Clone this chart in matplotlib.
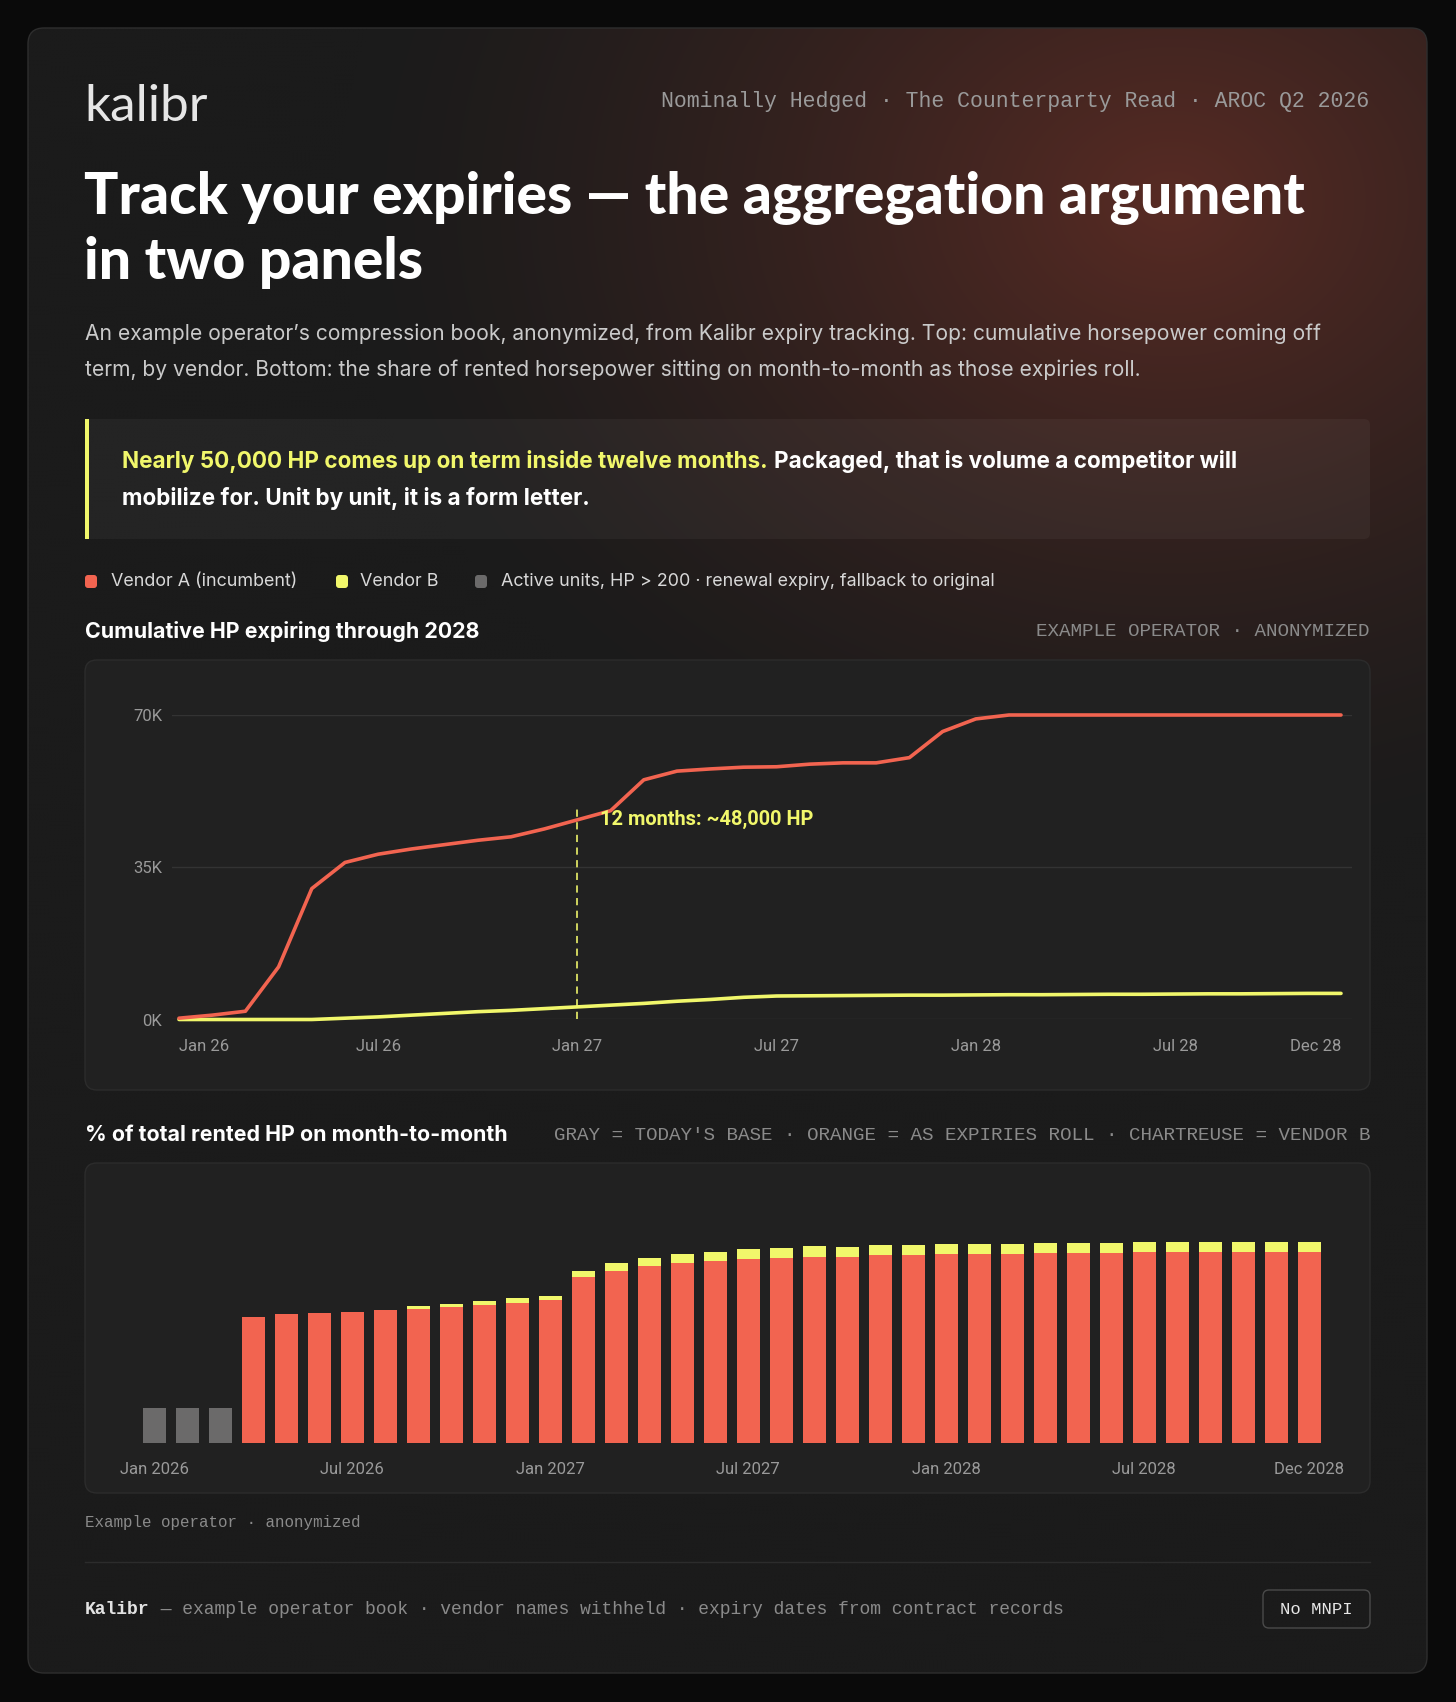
import numpy as np
import matplotlib
matplotlib.use("Agg")
from matplotlib import pyplot as plt
from matplotlib.patches import FancyBboxPatch, Rectangle
from matplotlib.ticker import FuncFormatter

# ---- data ----
months = np.arange(36)  # Jan 2026 .. Dec 2028

# cumulative HP expiring, thousands
vendor_a_cum = [0.3, 1.0, 1.9, 12.1, 30.1, 36.1, 38.0, 39.2, 40.2, 41.2, 42.0, 43.8,
                45.9, 48.0, 55.1, 57.1, 57.6, 58.0, 58.1, 58.7, 59.0, 59.0, 60.2, 66.2,
                69.1, 70.0, 70.0, 70.0, 70.0, 70.0, 70.0, 70.0, 70.0, 70.0, 70.0, 70.0]
vendor_b_cum = [0.0, 0.0, 0.0, 0.0, 0.0, 0.3, 0.6, 1.0, 1.4, 1.8, 2.1, 2.5,
                2.9, 3.3, 3.7, 4.2, 4.6, 5.1, 5.4, 5.45, 5.5, 5.55, 5.6, 5.6,
                5.65, 5.7, 5.7, 5.75, 5.8, 5.8, 5.85, 5.9, 5.9, 5.95, 6.0, 6.0]
line_ticks = [0, 6, 12, 18, 24, 30, 35]
line_tick_labels = ['Jan 26', 'Jul 26', 'Jan 27', 'Jul 27', 'Jan 28', 'Jul 28', 'Dec 28']
y_ticks = [0, 35000, 70000]

# share of rented HP on month-to-month, %
base_share = [12.0, 12.0, 12.0] + [0.0] * 33
vendor_a_share = [0.0, 0.0, 0.0,
                  43.9, 44.7, 45.2, 45.5, 46.3, 46.7, 47.2, 48.0, 48.8,
                  49.6, 57.7, 59.8, 61.6, 62.5, 63.2, 63.9, 64.3, 64.8, 64.8, 65.3, 65.3,
                  65.6, 65.6, 65.6, 66.0, 66.0, 66.0, 66.3, 66.3, 66.3, 66.3, 66.3, 66.3]
vendor_b_share = [0.0, 0.0, 0.0, 0.0, 0.0, 0.0, 0.0, 0.0, 0.9, 1.1, 1.4, 1.5,
                  1.6, 2.0, 2.7, 2.9, 3.1, 3.2, 3.5, 3.5, 3.6, 3.5, 3.5, 3.5,
                  3.6, 3.6, 3.6, 3.6, 3.6, 3.6, 3.7, 3.7, 3.7, 3.7, 3.7, 3.7]
bar_tick_labels = ['Jan 2026', 'Jul 2026', 'Jan 2027', 'Jul 2027', 'Jan 2028', 'Jul 2028', 'Dec 2028']

# ---- style ----
RED = '#f26450'
YELLOW = '#f1f76b'
GRAY = '#6b6a6a'
PANEL = '#212121'
MUTED = '#9a9a9a'
SANS = ['Inter', 'DejaVu Sans']
TICKF = ['Roboto', 'DejaVu Sans']
MONO = ['Liberation Mono', 'DejaVu Sans Mono']
TITLEF = ['Lato', 'DejaVu Sans']

W, H = 1456, 1702
fig = plt.figure(figsize=(W / 100, H / 100), dpi=100, facecolor='#0a0a0a')

# background axes in pixel coordinates (y down)
bg = fig.add_axes([0, 0, 1, 1])
bg.set_xlim(0, W)
bg.set_ylim(H, 0)
bg.axis('off')


def px_axes(left, top, right, bottom):
    return fig.add_axes([left / W, 1 - bottom / H, (right - left) / W, (bottom - top) / H])


def rbox(x, y, w, h, r, fc, ec='none', lw=0, z=1, alpha=1):
    p = FancyBboxPatch((x, y), w, h, boxstyle='round,pad=0,rounding_size=%s' % r,
                       fc=fc, ec=ec, lw=lw, zorder=z, alpha=alpha)
    bg.add_patch(p)
    return p


# card with warm glow in the upper right
card = rbox(28, 28, 1399, 1645, 16, '#1b1b1b', z=0.5)
gy, gx = np.mgrid[28:1673:4, 28:1427:4]
d = np.sqrt(((gx - 1170) / 830.0) ** 2 + ((gy - 200) / 660.0) ** 2)
a = np.clip(1 - d, 0, 1) ** 1.4
base_c = np.array([27, 27, 27]) / 255.0
glow_c = np.array([88, 43, 36]) / 255.0
img = base_c + (glow_c - base_c) * a[..., None]
im = bg.imshow(img, extent=[28, 1427, 1673, 28], origin='upper', interpolation='bilinear',
               zorder=0.6, aspect='auto')
im.set_clip_path(card)
rbox(28, 28, 1399, 1645, 16, 'none', ec='#2e2e2e', lw=1, z=0.7)

# header
bg.text(84, 121, 'kalibr', family=TITLEF, weight='normal', size=37, color='#e6e6e6', va='baseline')
bg.text(1369, 101, 'Nominally Hedged \u00b7 The Counterparty Read \u00b7 AROC Q2 2026',
        family=MONO, size=15.5, color=MUTED, ha='right', va='center')

bg.text(84, 214, 'Track your expiries \u2014 the aggregation argument', family=TITLEF,
        weight=900, size=41, color='white', va='baseline')
bg.text(84, 279, 'in two panels', family=TITLEF, weight=900, size=41, color='white',
        va='baseline')

bg.text(85, 340, 'An example operator\u2019s compression book, anonymized, from Kalibr expiry tracking. '
        'Top: cumulative horsepower coming off', family=SANS, size=15.15, color='#cacaca', va='baseline')
bg.text(85, 376, 'term, by vendor. Bottom: the share of rented horsepower sitting on month-to-month '
        'as those expiries roll.', family=SANS, size=15.15, color='#cacaca', va='baseline')

# callout
rbox(85, 419, 1285, 120, 6, 'white', z=1, alpha=0.045)
bg.add_patch(Rectangle((85, 419), 3.5, 120, fc=YELLOW, ec='none', zorder=2))
t1 = bg.text(122, 468, 'Nearly 50,000 HP comes up on term inside twelve months.', family=SANS,
             weight='bold', size=16.2, color=YELLOW, va='baseline', zorder=3)
fig.canvas.draw()
x_end = t1.get_window_extent(fig.canvas.get_renderer()).x1
bg.text(x_end + 6, 468, 'Packaged, that is volume a competitor will', family=SANS, weight='bold',
        size=16.2, color='white', va='baseline', zorder=3)
bg.text(122, 505, 'mobilize for. Unit by unit, it is a form letter.', family=SANS, weight='bold',
        size=16.2, color='white', va='baseline', zorder=3)

# legend
for mx, tx, col, lab in [(85, 111, RED, 'Vendor A (incumbent)'),
                         (336, 360, YELLOW, 'Vendor B'),
                         (475, 501, GRAY, 'Active units, HP > 200 \u00b7 renewal expiry, fallback to original')]:
    rbox(mx, 575, 12, 13, 3, col, z=2)
    bg.text(tx, 582, lab, family=SANS, size=12.9, color='#d9d9d9', va='center')

# panel 1 header + box
bg.text(85, 631, 'Cumulative HP expiring through 2028', family=SANS, weight='bold', size=15.4,
        color='white', va='center')
bg.text(1370, 632, 'EXAMPLE OPERATOR \u00b7 ANONYMIZED', family=MONO, size=13.9, color='#8a8a8a',
        ha='right', va='center')
rbox(85, 660, 1285, 430, 12, PANEL, ec='#2c2c2c', lw=1, z=1)

# panel 2 header + box
bg.text(85, 1135, '% of total rented HP on month-to-month', family=SANS, weight='bold', size=15.4,
        color='white', va='center')
bg.text(1370, 1136, "GRAY = TODAY'S BASE \u00b7 ORANGE = AS EXPIRIES ROLL \u00b7 CHARTREUSE = VENDOR B",
        family=MONO, size=13.9, color='#8a8a8a', ha='right', va='center')
rbox(85, 1163, 1285, 330, 12, PANEL, ec='#2c2c2c', lw=1, z=1)

# footnote + footer
bg.text(85, 1522, 'Example operator \u00b7 anonymized', family=MONO, size=11.4, color='#8a8a8a',
        va='center')
bg.plot([85, 1370], [1562, 1562], color='#2c2c2c', lw=1, zorder=2)
tk = bg.text(85, 1610, 'Kalibr', family=MONO, weight='bold', size=12.95, color='#e2e2e2', va='center')
fig.canvas.draw()
k_end = tk.get_window_extent(fig.canvas.get_renderer()).x1
bg.text(k_end, 1610, ' \u2014 example operator book \u00b7 vendor names withheld \u00b7 expiry dates from contract records',
        family=MONO, size=12.95, color='#8a8a8a', va='center')
rbox(1263, 1590, 107, 38, 6, 'none', ec='#4a4a4a', lw=1, z=2)
bg.text(1316.5, 1610, 'No MNPI', family=MONO, size=12.4, color='#e6e6e6', ha='center', va='center')


def clean(ax):
    ax.set_facecolor('none')
    for s in ax.spines.values():
        s.set_visible(False)
    ax.tick_params(length=0)
    ax.set_zorder(3)


# ---- top panel: cumulative lines ----
x0_px, step = 179.0, (1341.0 - 179.0) / 35
ax1 = px_axes(172, 715, 1352, 1019.5)
clean(ax1)
ax1.set_xlim((172 - x0_px) / step, (1352 - x0_px) / step)
ax1.set_ylim(0, 70000)
ax1.set_yticks(y_ticks)
ax1.yaxis.set_major_formatter(FuncFormatter(lambda v, p: '%dK' % round(v / 1000)))
ax1.grid(axis='y', color='#333333', lw=1)
ax1.set_axisbelow(True)
ax1.plot(months, np.array(vendor_b_cum) * 1000, color=YELLOW, lw=2.6, clip_on=False,
         solid_capstyle='round', solid_joinstyle='round')
ax1.plot(months, np.array(vendor_a_cum) * 1000, color=RED, lw=2.6, clip_on=False,
         solid_capstyle='round', solid_joinstyle='round')
ax1.vlines(12, 0, 49100, color=YELLOW, lw=1.3, linestyles=(0, (4, 3)), alpha=0.9)
ax1.text(12.68, 46100, '12 months: ~48,000 HP', family=TICKF, weight='bold', size=14.4,
         color=YELLOW, va='center', ha='left')
ax1.set_xticks(line_ticks)
ax1.set_xticklabels(line_tick_labels)
ax1.tick_params(axis='x', pad=14, labelsize=12, labelcolor=MUTED)
ax1.tick_params(axis='y', pad=7, labelsize=12, labelcolor=MUTED)
for lab in ax1.get_xticklabels() + ax1.get_yticklabels():
    lab.set_family(TICKF)
xl = ax1.get_xticklabels()
xl[0].set_ha('left')
xl[-1].set_ha('right')

# ---- bottom panel: stacked bars ----
px_per_pct = 2.87
ax2 = px_axes(154.1 - 33.0, 1442.7 - 75 * px_per_pct, 154.1 + 36 * 33.0, 1442.7)
clean(ax2)
ax2.set_xlim(-1, 36)
ax2.set_ylim(0, 75)
ax2.set_yticks([])
ax2.bar(months, base_share, width=0.7, color=GRAY)
ax2.bar(months, vendor_a_share, width=0.7, color=RED)
ax2.bar(months, vendor_b_share, width=0.7, bottom=vendor_a_share, color=YELLOW)
ax2.set_xticks(line_ticks)
ax2.set_xticklabels(bar_tick_labels)
ax2.tick_params(axis='x', pad=14, labelsize=12, labelcolor=MUTED)
for lab in ax2.get_xticklabels():
    lab.set_family(TICKF)

fig.savefig('out.png', dpi=100, facecolor='#0a0a0a')
